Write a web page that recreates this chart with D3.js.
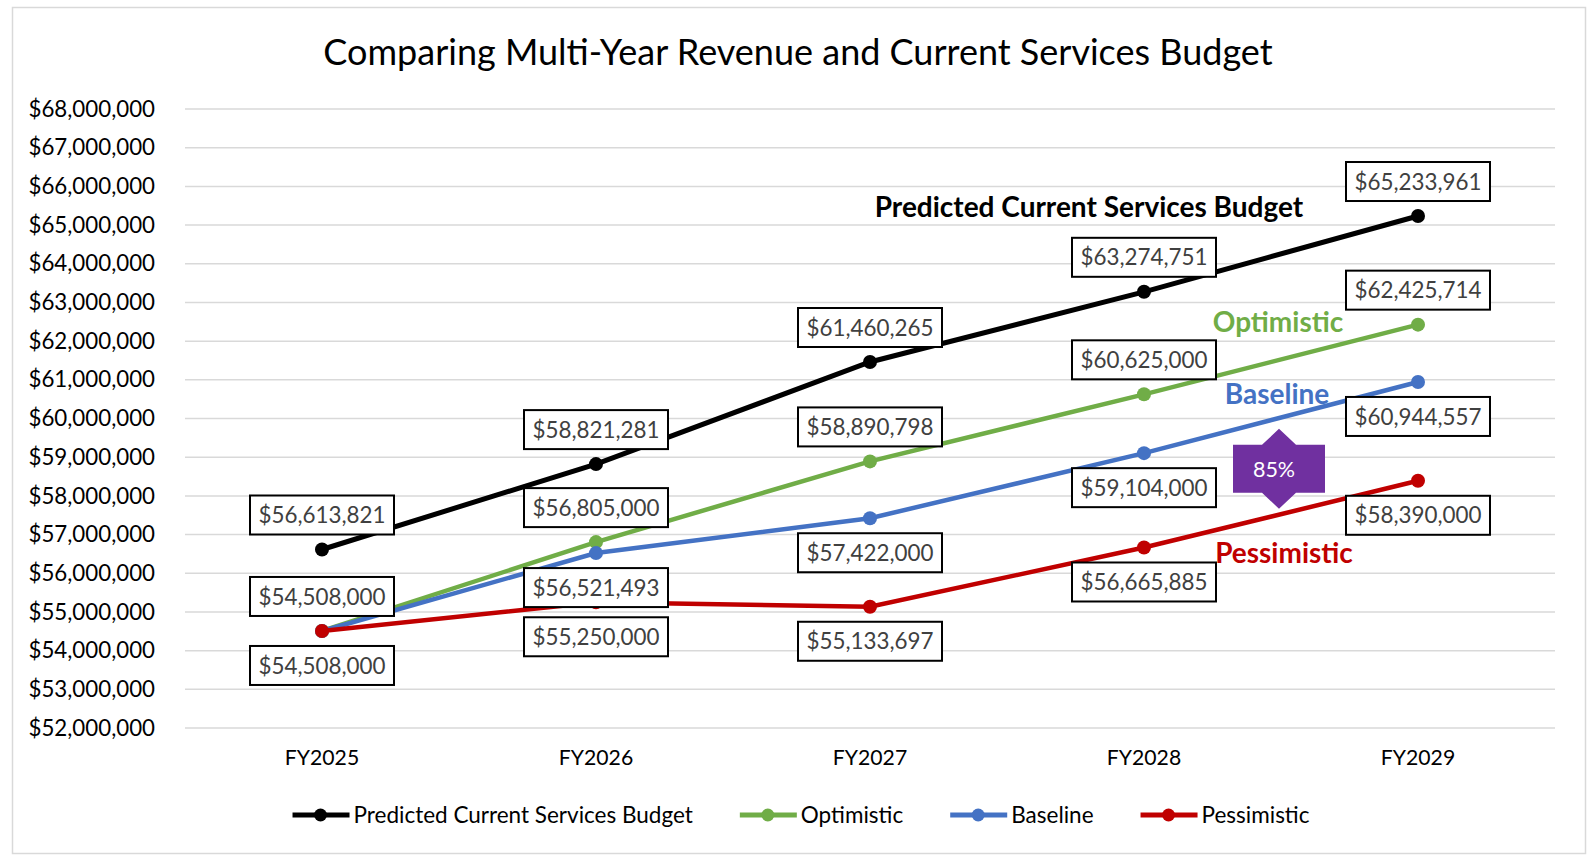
<!DOCTYPE html>
<html>
<head>
<meta charset="utf-8">
<script src="https://cdn.jsdelivr.net/npm/d3@7"></script>
<style>
  body { margin: 0; background: #fff; }
  text { font-family: Lato, "Open Sans", sans-serif; }
</style>
</head>
<body>
<div id="chart"></div>
<script>
// data
var years = ["FY2025", "FY2026", "FY2027", "FY2028", "FY2029"];
var budget = [56613821, 58821281, 61460265, 63274751, 65233961];
var optimistic = [54508000, 56805000, 58890798, 60625000, 62425714];
var baseline = [54508000, 56521493, 57422000, 59104000, 60944557];
var pessimistic = [54508000, 55250000, 55133697, 56665885, 58390000];
var seriesNames = ["Predicted Current Services Budget", "Optimistic", "Baseline", "Pessimistic"];
var yTicks = d3.range(52000000, 68000001, 1000000);
var annotationText = "85%";

var width = 1596;
var height = 865;
var margin = { left: 185, right: 41, top: 109, bottom: 137 };

var colors = ["#000000", "#70AD47", "#4472C4", "#C00000"];
// where each series puts its data labels: -1 above, 1 below, 0 none
var labelSide = [
    [-1, -1, -1, -1, -1],
    [-1, -1, -1, -1, -1],
    [0, 1, 1, 1, 1],
    [1, 1, 1, 1, 1]
];

var svg = d3.select('#chart')
    .append('svg')
    .attr('width', width)
    .attr('height', height);

// chart frame
svg.append('rect')
    .attr('x', 12.5).attr('y', 7.5)
    .attr('width', 1573).attr('height', 846)
    .attr('fill', '#fff')
    .attr('stroke', '#d9d9d9')
    .attr('stroke-width', 1.5);

svg.append('text')
    .attr('x', 798)
    .attr('y', 52)
    .attr('dy', '0.35em')
    .attr('text-anchor', 'middle')
    .attr('font-size', 36)
    .attr('fill', '#000')
    .text("Comparing Multi-Year Revenue and Current Services Budget");

var x = d3.scaleBand()
    .domain(years)
    .range([margin.left, width - margin.right]);
var y = d3.scaleLinear()
    .domain([52000000, 68000000])
    .range([height - margin.bottom, margin.top]);
var cx = function (d) { return x(d) + x.bandwidth() / 2; };

// gridlines
svg.append('g')
    .selectAll('line')
    .data(yTicks)
    .enter()
    .append('line')
    .attr('x1', margin.left)
    .attr('x2', width - margin.right)
    .attr('y1', d => y(d))
    .attr('y2', d => y(d))
    .attr('stroke', '#d9d9d9')
    .attr('stroke-width', 1.5);

var yAxis = svg.append('g')
    .attr('transform', 'translate(155,0)')
    .call(d3.axisLeft(y).tickValues(yTicks).tickSize(0).tickPadding(0)
        .tickFormat(d => "$" + d3.format(",")(d)));
yAxis.select('.domain').remove();
yAxis.selectAll('text')
    .attr('font-family', 'Lato')
    .attr('font-size', 22.3)
    .attr('fill', '#000');

var xAxis = svg.append('g')
    .attr('transform', 'translate(0,' + (height - margin.bottom) + ')')
    .call(d3.axisBottom(x).tickSize(0).tickPadding(22));
xAxis.select('.domain').remove();
xAxis.selectAll('text')
    .attr('font-family', 'Lato')
    .attr('font-size', 21.2)
    .attr('fill', '#000');

var allSeries = [budget, optimistic, baseline, pessimistic].map(function (vals, i) {
    return {
        name: seriesNames[i],
        color: colors[i],
        points: vals.map((v, j) => ({ year: years[j], value: v, side: labelSide[i][j] }))
    };
});

var line = d3.line()
    .x(d => cx(d.year))
    .y(d => y(d.value));

var lineg = svg.append('g');
allSeries.forEach(function (s, i) {
    lineg.append('path')
        .datum(s.points)
        .attr('fill', 'none')
        .attr('stroke', s.color)
        .attr('stroke-width', i == 0 ? 5 : 4.5)
        .attr('d', line);
    lineg.selectAll('.dot' + i)
        .data(s.points)
        .enter()
        .append('circle')
        .attr('cx', d => cx(d.year))
        .attr('cy', d => y(d.value))
        .attr('r', 7)
        .attr('fill', s.color);
});

// data labels in boxes
var labelg = svg.append('g');
allSeries.forEach(function (s) {
    s.points.filter(d => d.side != 0).forEach(function (d) {
        var lx = cx(d.year);
        var ly = y(d.value) + d.side * 34.5;
        labelg.append('rect')
            .attr('x', lx - 72)
            .attr('y', ly - 19.5)
            .attr('width', 144)
            .attr('height', 39)
            .attr('fill', '#fff')
            .attr('stroke', '#000')
            .attr('stroke-width', 2);
        labelg.append('text')
            .attr('x', lx)
            .attr('y', ly)
            .attr('dy', '0.36em')
            .attr('text-anchor', 'middle')
            .attr('font-size', 22.4)
            .attr('fill', '#404040')
            .text("$" + d3.format(",")(d.value));
    });
});

// series names written on the plot
var inline = [
    { text: seriesNames[0], x: cx("FY2028") - 55, v: 65470000 },
    { text: seriesNames[1], x: cx("FY2029") - 140, v: 62500000 },
    { text: seriesNames[2], x: cx("FY2029") - 141, v: 60620000 },
    { text: seriesNames[3], x: cx("FY2029") - 134, v: 56520000 }
];
svg.append('g')
    .selectAll('text')
    .data(inline)
    .enter()
    .append('text')
    .attr('x', d => d.x)
    .attr('y', d => y(d.v))
    .attr('dy', '0.35em')
    .attr('text-anchor', 'middle')
    .attr('font-size', 28)
    .attr('font-weight', 'bold')
    .attr('fill', (d, i) => colors[i])
    .text(d => d.text);

// purple "85%" callout between FY2028 and FY2029
var ax = (cx("FY2028") + cx("FY2029")) / 2 - 2;
var ay = y(58700000);
var shape = [
    [-46, -24], [-17, -24], [0, -40], [17, -24], [46, -24],
    [46, 24], [17, 24], [0, 40], [-17, 24], [-46, 24]
];
svg.append('path')
    .attr('d', d3.line()(shape.map(p => [ax + p[0], ay + p[1]])) + 'Z')
    .attr('fill', '#7030A0');
svg.append('text')
    .attr('x', ax - 5)
    .attr('y', ay)
    .attr('dy', '0.36em')
    .attr('text-anchor', 'middle')
    .attr('font-size', 21.5)
    .attr('fill', '#fff')
    .text(annotationText);

// legend
var legend = svg.append('g');
var lx = 0;
var items = [];
allSeries.forEach(function (s) {
    var g = legend.append('g');
    g.append('line')
        .attr('x1', 0).attr('x2', 57)
        .attr('y1', 0).attr('y2', 0)
        .attr('stroke', s.color)
        .attr('stroke-width', 5);
    g.append('circle')
        .attr('cx', 28).attr('cy', 0).attr('r', 6.5)
        .attr('fill', s.color);
    var t = g.append('text')
        .attr('x', 61)
        .attr('dy', '0.35em')
        .attr('font-size', 22.5)
        .attr('fill', '#000')
        .text(s.name);
    items.push({ g: g, w: 61 + t.node().getComputedTextLength() });
});
items.forEach(function (it, i) {
    it.g.attr('transform', 'translate(' + lx + ',0)');
    lx += it.w + (i < items.length - 1 ? 47 : 0);
});
legend.attr('transform', 'translate(' + (801 - lx / 2) + ',815)');
</script>
</body>
</html>
